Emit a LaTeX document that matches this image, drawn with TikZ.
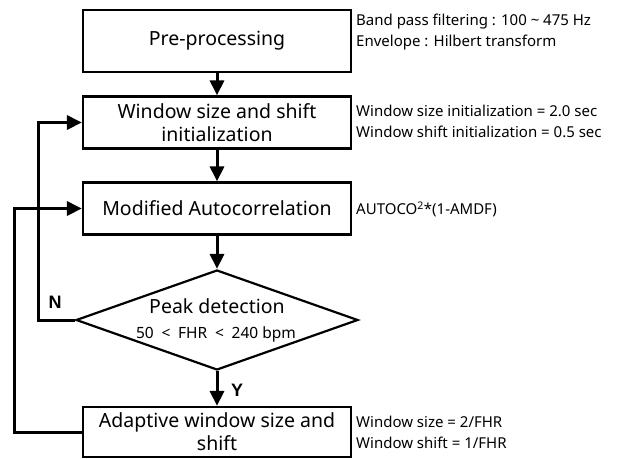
\documentclass[tikz,border=0pt]{standalone}
\usepackage{fontspec}
\setmainfont{Noto Sans}
\newfontfamily\boxfont{Noto Sans}
\newfontfamily\notefont{Noto Sans}
\newfontfamily\lblfont{Liberation Sans}
\usetikzlibrary{shapes.geometric,arrows.meta}
\begin{document}
\begin{tikzpicture}[x=1pt,y=-1pt,
  box/.style={draw,line width=2.2pt,minimum width=268pt,inner sep=0pt,align=center,font=\boxfont\fontsize{19.5}{23}\selectfont},
  note/.style={anchor=west,align=left,inner sep=0pt,font=\notefont\fontsize{15}{21}\selectfont},
  arr/.style={line width=3pt,-{Triangle[width=14pt,length=15pt]}},
  lbl/.style={font=\lblfont\fontsize{18}{18}\selectfont\bfseries,inner sep=0pt}]
\useasboundingbox (0,0) rectangle (620,458);
\node[box,minimum height=62pt] (pre) at (217,41) {Pre-processing};
\node[box,minimum height=52pt] (win) at (217,122.5) {Window size and shift\\initialization};
\node[box,minimum height=52pt] (mod) at (217,208.5) {Modified Autocorrelation};
\node[draw,diamond,line width=2.2pt,minimum width=282pt,minimum height=100pt,inner sep=0pt] (dec) at (217,320) {};
\node[inner sep=0pt,font=\boxfont\fontsize{19.5}{23}\selectfont] (dt1) at (217,306) {Peak detection};
\node[inner sep=0pt,font=\notefont\fontsize{15.5}{18}\selectfont] (dt2) at (216,334) {50\hspace{0.5em}<\hspace{0.5em}FHR\hspace{0.5em}<\hspace{0.5em}240 bpm};
\node[box,minimum height=50pt] (ada) at (217,432) {Adaptive window size and\\shift};
\node[note] (n1) at (356,32) {Band pass filtering : 100 \textasciitilde{} 475 Hz\\Envelope : Hilbert transform};
\node[note] (n2) at (356,121) {Window size initialization = 2.0 sec\\Window shift initialization = 0.5 sec};
\node[note] (n3) at (356,209) {AUTOCO\textsuperscript{2}*(1-AMDF)};
\node[note] (n4) at (356,432) {Window size = 2/FHR\\Window shift = 1/FHR};
\coordinate (nl) at (38,320);
\coordinate (nt) at (38,122.5);
\coordinate (ob) at (14,432);
\coordinate (ot) at (14,208.5);
\draw[arr] (pre.south) -- (win.north);
\draw[arr] (win.south) -- (mod.north);
\draw[arr] (mod.south) -- (dec.north);
\draw[arr] (dec.south) -- (ada.north);
\draw[arr] (dec.west) -- (nl) -- (nt) -- (win.west);
\draw[arr] (ada.west) -- (ob) -- (ot) -- (mod.west);
\node[lbl] (N) at (55,302) {N};
\node[lbl] (Y) at (237,390) {Y};
\end{tikzpicture}
\end{document}
